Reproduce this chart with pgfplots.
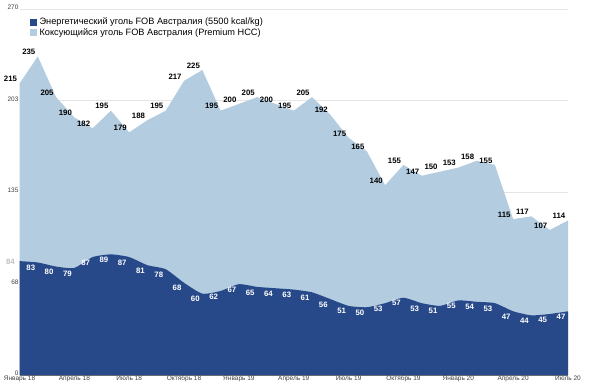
\documentclass[border=0pt]{standalone}
\usepackage{pgfplots}
\pgfplotsset{compat=1.18}
\usepackage{fontspec}
\setmainfont{Liberation Sans}
\definecolor{darkb}{HTML}{27498A}
\definecolor{lightb}{HTML}{B3CCE0}
\begin{document}
\begin{tikzpicture}
\path[use as bounding box] (0,0) rectangle (590bp,385bp);
\begin{axis}[
  at={(19.5bp,10bp)}, anchor=south west,
  scale only axis, width=548.5bp, height=366bp,
  xmin=0, xmax=30, ymin=0, ymax=270,
  axis lines*=left,
  y axis line style={draw=none},
  x axis line style={-, draw=black!60, line width=0.8pt},
  major tick length=0pt,
  ytick={0,67.5,135,202.5,270},
  yticklabels={0,68,135,203,270},
  xtick={0,3,6,9,12,15,18,21,24,27,30},
  xticklabels={Январь 18,Апрель 18,Июль 18,Октябрь 18,Январь 19,Апрель 19,Июль 19,Октябрь 19,Январь 20,Апрель 20,Июль 20},
  ymajorgrids, grid style={black!10, line width=0.5pt},
  /pgf/number format/assume math mode=true,
  tick label style={font=\fontsize{6.5bp}{7bp}\selectfont, text=black!75},
  yticklabel style={xshift=2.5bp, yshift=1.5bp, inner ysep=0.5bp},
  xticklabel style={yshift=0bp, inner ysep=1bp},
  clip=false,
  reverse legend,
  legend style={at={(0.019,0.977)}, anchor=north west, draw=none, fill=none,
    font=\fontsize{9.2bp}{11bp}\selectfont, row sep=1bp, inner sep=0pt,
    legend cell align=left,
    nodes={inner xsep=2.5bp, inner ysep=0.5bp}},
  legend image code/.code={\fill[#1] (0bp,-3.4bp) rectangle (7bp,3.6bp);},
]
\addplot[fill=lightb, draw=none,
  nodes near coords, point meta=explicit symbolic,
  every node near coord/.style={font=\bfseries\fontsize{7.8bp}{8bp}\selectfont, text=black, anchor=south, xshift=-9bp, inner sep=1.5bp}]
coordinates {
(0,215)[215] (1,235)[235] (2,205)[205] (3,190)[190] (4,182)[182] (5,195)[195]
(6,179)[179] (7,188)[188] (8,195)[195] (9,217)[217] (10,225)[225] (11,195)[195]
(12,200)[200] (13,205)[205] (14,200)[200] (15,195)[195] (16,205)[205] (17,192)[192]
(18,175)[175] (19,165)[165] (20,140)[140] (21,155)[155] (22,147)[147] (23,150)[150]
(24,153)[153] (25,158)[158] (26,155)[155] (27,115)[115] (28,117)[117] (29,107)[107]
(30,114)[114]
} \closedcycle;
\addlegendentry{Коксующийся уголь FOB Австралия (Premium HCC)}
\addplot[fill=darkb, draw=none, smooth, tension=0.35]
coordinates {
(0,84) (1,83) (2,80) (3,79) (4,87) (5,89) (6,87) (7,81) (8,78) (9,68) (10,60)
(11,62) (12,67) (13,65) (14,64) (15,63) (16,61) (17,56) (18,51) (19,50) (20,53)
(21,57) (22,53) (23,51) (24,55) (25,54) (26,53) (27,47) (28,44) (29,45) (30,47)
} \closedcycle;
\addlegendentry{Энергетический уголь FOB Австралия (5500 kcal/kg)}
\addplot[draw=none, mark=none, forget plot,
  nodes near coords, point meta=explicit symbolic,
  every node near coord/.style={font=\bfseries\fontsize{7.8bp}{8bp}\selectfont, text=white, anchor=north, xshift=-7bp, inner sep=2.5bp}]
coordinates {
(1,83)[83] (2,80)[80] (3,79)[79] (4,87)[87] (5,89)[89] (6,87)[87] (7,81)[81] (8,78)[78] (9,68)[68] (10,60)[60]
(11,62)[62] (12,67)[67] (13,65)[65] (14,64)[64] (15,63)[63] (16,61)[61] (17,56)[56] (18,51)[51] (19,50)[50] (20,53)[53]
(21,57)[57] (22,53)[53] (23,51)[51] (24,55)[55] (25,54)[54] (26,53)[53] (27,47)[47] (28,44)[44] (29,45)[45] (30,47)[47]
};
\addplot[draw=none, mark=none, forget plot,
  nodes near coords, point meta=explicit symbolic,
  every node near coord/.style={font=\bfseries\fontsize{7.8bp}{8bp}\selectfont, text=black!25, anchor=north, xshift=-9bp, inner sep=-2bp}]
coordinates {(0,84)[84]};
\end{axis}
\end{tikzpicture}
\end{document}
